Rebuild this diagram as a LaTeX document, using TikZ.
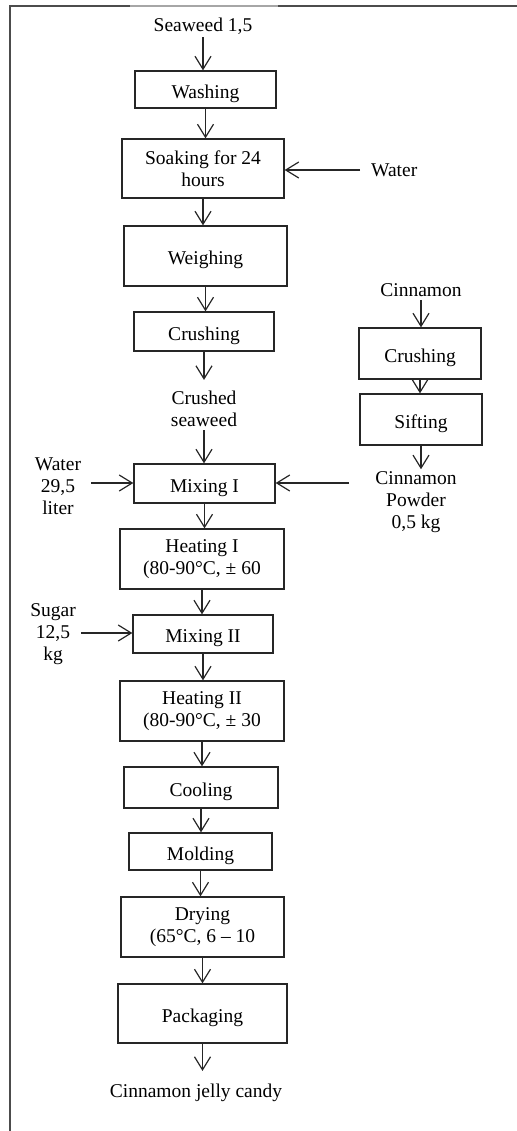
\documentclass[tikz,border=0pt]{standalone}
\usepackage{fontspec}
\setmainfont{Liberation Serif}
\usetikzlibrary{arrows.meta}
\tikzset{
  box/.style={draw=black!85, line width=1.3bp, inner sep=0pt, align=center,
    font=\fontsize{19.5bp}{22bp}\selectfont,
    execute at begin node={\rule{0pt}{22bp}}},
  lbl/.style={inner sep=0pt, align=center, font=\fontsize{19.5bp}{22bp}\selectfont},
  flow/.style={draw=black!85, line width=1.2bp,
    -{Straight Barb[length=13bp,width=16bp,line width=1.2bp]}},
}
\begin{document}
\begin{tikzpicture}[x=1bp,y=-1bp]
\useasboundingbox (0,0) rectangle (517,1131);
% frame
\draw[black!70, line width=2bp] (10,5) -- (10,1131);
\draw[black!70, line width=2bp] (9,6) -- (130,6);
\draw[black!35, line width=1.5bp] (130,6) -- (278,6);
\draw[black!70, line width=2bp] (278,6) -- (517,6);

% main column boxes
\node[box, minimum width=141bp, minimum height=37bp] (wash) at (205.5,89.5) {Washing};
\node[box, minimum width=162bp, minimum height=59bp] (soak) at (203,168.5) {Soaking for 24\\hours};
\node[box, minimum width=163bp, minimum height=60bp] (weigh) at (205.5,256) {Weighing};
\node[box, minimum width=140bp, minimum height=39bp] (crush) at (204,331.5) {Crushing};
\node[box, minimum width=141bp, minimum height=39bp] (mix1) at (204.5,483.5) {Mixing I};
\node[box, minimum width=164bp, minimum height=60bp] (heat1) at (202,559) {Heating I\\(80-90°C, ± 60};
\node[box, minimum width=140bp, minimum height=38bp] (mix2) at (203,634) {Mixing II};
\node[box, minimum width=164bp, minimum height=60bp] (heat2) at (202,711) {Heating II\\(80-90°C, ± 30};
\node[box, minimum width=154bp, minimum height=41bp] (cool) at (201,787.5) {Cooling};
\node[box, minimum width=143bp, minimum height=37bp] (mold) at (200.5,851.5) {Molding};
\node[box, minimum width=163bp, minimum height=60bp] (dry) at (202.5,927) {Drying\\(65°C, 6 – 10};
\node[box, minimum width=169bp, minimum height=59bp] (pack) at (202.5,1013.5) {Packaging};

% side column boxes
\node[box, minimum width=122bp, minimum height=51bp] (crush2) at (420,353.5) {Crushing};
\node[box, minimum width=122bp, minimum height=51bp] (sift) at (421,419.5) {Sifting};

% labels
\node[lbl] (seaweed) at (203,26) {Seaweed 1,5};
\node[lbl, anchor=west] (water) at (371,170) {Water};
\node[lbl] (crushed) at (204,409) {Crushed\\seaweed};
\node[lbl] (cinn) at (421,290) {Cinnamon};
\node[lbl] (cpow) at (416,502) {Cinnamon\\Powder\\0,5 kg};
\node[lbl] (water2) at (58,486) {Water\\29,5\\liter};
\node[lbl] (sugar) at (53,634) {Sugar\\12,5\\kg};
\node[lbl] (candy) at (196,1093) {Cinnamon jelly candy};

% free ends
\coordinate (waterin) at (360,170);
\coordinate (cpowin) at (349,483);
\coordinate (water2in) at (91,483);
\coordinate (sugarin) at (81,633);

% connectors
\draw[flow] ([yshift=-3bp]seaweed.south) -- (seaweed.south |- wash.north);
\draw[flow] (wash.south) -- (wash.south |- soak.north);
\draw[flow] (soak.south) -- (soak.south |- weigh.north);
\draw[flow] (weigh.south) -- (weigh.south |- crush.north);
\draw[flow] (crush.south) -- ([yshift=11bp]crush.south |- crushed.north);
\draw[flow] ([yshift=-3bp]crushed.south) -- (crushed.south |- mix1.north);
\draw[flow] (mix1.south) -- (mix1.south |- heat1.north);
\draw[flow] (heat1.south) -- (heat1.south |- mix2.north);
\draw[flow] (mix2.south) -- (mix2.south |- heat2.north);
\draw[flow] (heat2.south) -- (heat2.south |- cool.north);
\draw[flow] (cool.south) -- (cool.south |- mold.north);
\draw[flow] (mold.south) -- (mold.south |- dry.north);
\draw[flow] (dry.south) -- (dry.south |- pack.north);
\draw[flow] (pack.south) -- ([yshift=13bp]pack.south |- candy.north);

\draw[flow] (waterin) -- (waterin -| soak.east);
\draw[flow] ([yshift=-3bp]cinn.south) -- (cinn.south |- crush2.north);
\draw[flow] (crush2.south) -- (crush2.south |- sift.north);
\draw[flow] (sift.south) -- ([yshift=2bp]sift.south |- cpow.north);
\draw[flow] (cpowin) -- (cpowin -| mix1.east);
\draw[flow] (water2in) -- (water2in -| mix1.west);
\draw[flow] (sugarin) -- (sugarin -| mix2.west);
\end{tikzpicture}
\end{document}
